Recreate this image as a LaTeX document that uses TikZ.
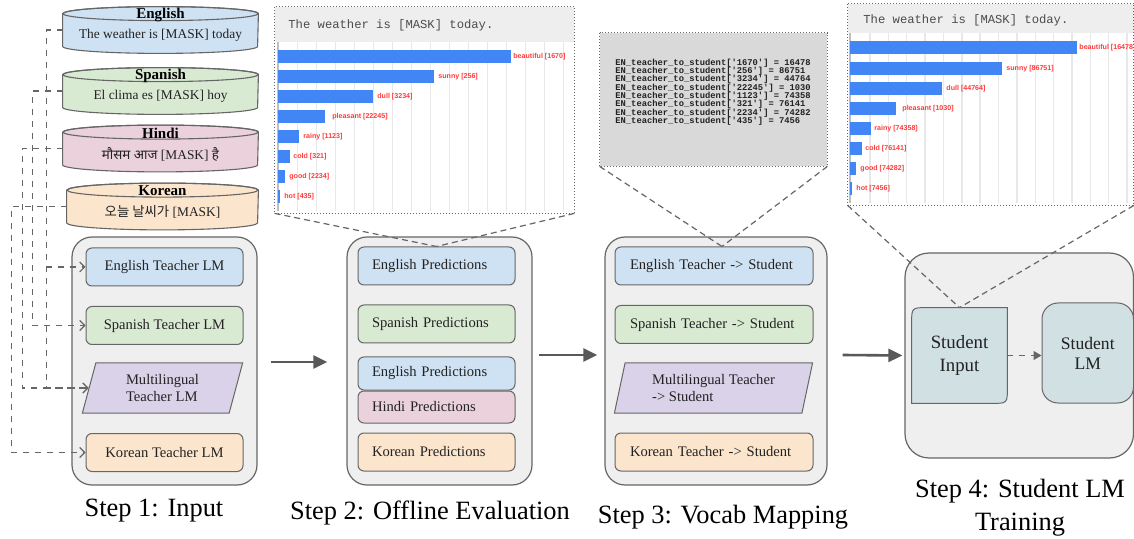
\documentclass[tikz,border=0pt]{standalone}
\usepackage{fontspec}
\setmainfont{Liberation Serif}
\setmonofont{Liberation Mono}
\newfontfamily\chartfont{Liberation Sans}
\newfontfamily\hindifont[Script=Devanagari]{Noto Sans}
\newfontfamily\koreanfont{Noto Sans CJK KR}
\usepackage{tikz}
\usetikzlibrary{arrows.meta,positioning,shapes.geometric}
\usetikzlibrary{calc}

\definecolor{edgegray}{HTML}{666666}
\definecolor{panelgray}{HTML}{EFEFEF}
\definecolor{engcol}{HTML}{CFE2F3}
\definecolor{spacol}{HTML}{D9EAD3}
\definecolor{hincol}{HTML}{EAD1DC}
\definecolor{korcol}{HTML}{FCE5CD}
\definecolor{mulcol}{HTML}{D9D2E9}
\definecolor{stucol}{HTML}{D0E0E3}
\definecolor{flowgray}{HTML}{595959}
\definecolor{barblue}{HTML}{4285F4}
\definecolor{barred}{HTML}{FF3B3B}
\definecolor{gridgray}{HTML}{E8E8E8}
\definecolor{headgray}{HTML}{EEEEEE}
\definecolor{codegray}{HTML}{D9D9D9}
\definecolor{textdark}{HTML}{222222}

\tikzset{
  stepbox/.style={draw=edgegray, fill=panelgray, line width=0.6pt, rounded corners=10pt, inner sep=0pt},
  lmbox/.style={draw=edgegray, line width=0.5pt, rounded corners=3pt, minimum width=78.5pt, minimum height=19pt, inner sep=0pt, text=textdark, font=\fontsize{7.3}{8.3}\selectfont},
  predbox/.style={lmbox, inner xsep=7pt, text width=64.5pt, align=left},
  mapbox/.style={lmbox, minimum width=99pt, inner xsep=7.5pt, text width=84pt, align=left},
  slantbox/.style={trapezium, trapezium left angle=75, trapezium right angle=105, trapezium stretches=true, draw=edgegray, fill=mulcol, line width=0.5pt, inner sep=0pt, align=left, text=textdark, font=\fontsize{7.3}{8.6}\selectfont},
  dbcore/.style={minimum height=16pt, inner sep=0pt},
  dbedge/.style={draw=edgegray, line width=0.55pt},
  dbtitle/.style={inner sep=0pt, text=black, font=\bfseries\fontsize{7.5}{9}\selectfont},
  dbtext/.style={inner sep=0pt, text=textdark, font=\fontsize{6.7}{8}\selectfont},
  feed/.style={draw=edgegray, dashed, line width=0.55pt, -{Straight Barb[length=2.5pt,width=5pt]}},
  flow/.style={draw=flowgray, line width=1.3pt, -{Triangle[length=7pt,width=6.5pt]}},
  zoomline/.style={draw=edgegray, dash pattern=on 3pt off 2pt, line width=0.6pt},
  chartpanel/.style={fill=white, inner sep=0pt},
  panelborder/.style={draw=edgegray, line width=0.5pt, dash pattern=on 0.5pt off 1pt},
  gridline/.style={draw=gridgray, line width=0.7pt},
  barlabel/.style={anchor=west, inner sep=0pt, text=barred, font=\chartfont\bfseries\fontsize{3.55}{4}\selectfont},
  headtext/.style={anchor=west, inner sep=0pt, text=black!70, font=\ttfamily\fontsize{6.1}{7}\selectfont},
  codetext/.style={anchor=west, inner sep=0pt, align=left, text=textdark, font=\ttfamily\bfseries\fontsize{4.4}{4.15}\selectfont},
  steplabel/.style={anchor=base, inner sep=0pt, align=center, font=\fontsize{13.2}{16.5}\selectfont},
  studtext/.style={inner sep=0pt, align=center, text=textdark, font=\fontsize{9.4}{11.5}\selectfont}
}

\begin{document}
\begin{tikzpicture}[x=0.5pt,y=-0.5pt]
\useasboundingbox (0,0) rectangle (1134,539);

\foreach \nm/\cx/\cy/\w/\col/\ttl/\txt in {
  en/160.5/30/97.5/engcol/English/{The weather is [MASK] today},
  es/160.5/91/97.5/spacol/Spanish/{El clima es [MASK] hoy},
  hi/160.5/148.5/97.5/hincol/Hindi/{{\hindifont मौसम आज} [MASK] {\hindifont है}},
  ko/162.5/206.5/95.5/korcol/Korean/{{\koreanfont 오늘 날씨가} [MASK]}}
{
  \node[dbcore, minimum width=\w pt] (\nm) at (\cx,\cy) {};
  \draw[dbedge, fill=\col] (\nm.north west) -- (\nm.south west)
    arc[start angle=180, end angle=360, x radius=\w pt/2, y radius=3.5pt]
    -- (\nm.north east)
    arc[start angle=0, end angle=180, x radius=\w pt/2, y radius=3.5pt] -- cycle;
  \draw[dbedge] (\nm.north) ellipse[x radius=\w pt/2, y radius=3.5pt];
  \node[dbtitle] (\nm-title) at ([yshift=-0.5pt]\nm.north) {\ttl};
  \node[dbtext] (\nm-text) at ([yshift=-11pt]\nm.north) {\txt};
}

\node[stepbox, minimum width=92.5pt, minimum height=124pt] (input) at (164.5,361) {};
\node[stepbox, minimum width=92.5pt, minimum height=124pt] (offline) at (439.5,361) {};
\node[stepbox, minimum width=111pt, minimum height=124pt] (vocab) at (716,361) {};
\node[stepbox, rounded corners=12pt, minimum width=114.25pt, minimum height=102.5pt] (training) at (1019.25,355.5) {};

\node[lmbox, fill=engcol] (t-en) at (164.5,267) {English Teacher LM};
\node[lmbox, fill=spacol] (t-es) at (164.5,325.5) {Spanish Teacher LM};
\node[slantbox, minimum width=80.5pt, minimum height=25pt] (t-ml) at (162.5,388) {Multilingual\\Teacher LM};
\node[lmbox, fill=korcol] (t-ko) at (164.5,452.5) {Korean Teacher LM};

\node[predbox, fill=engcol] (p-en) at (436.5,266) {English Predictions};
\node[predbox, fill=spacol] (p-es) at (436.5,324) {Spanish Predictions};
\node[predbox, fill=engcol, minimum height=16.5pt] (p-en2) at (436.5,373.5) {English Predictions};
\node[predbox, fill=hincol, minimum height=16pt] (p-hi) at (436.5,407) {Hindi Predictions};
\node[predbox, fill=korcol] (p-ko) at (436.5,452) {Korean Predictions};

\node[mapbox, fill=engcol] (m-en) at (714,266) {English Teacher -> Student};
\node[mapbox, fill=spacol] (m-es) at (714,324.5) {Spanish Teacher -> Student};
\node[slantbox, minimum width=99.5pt, minimum height=25pt] (m-ml) at (713.5,388) {Multilingual Teacher\\-> Student};
\node[mapbox, fill=korcol] (m-ko) at (714,452) {Korean Teacher -> Student};

\node[minimum width=47.5pt, minimum height=47.5pt, inner sep=0pt] (s-in) at (959.5,355.5) {};
\draw[draw=edgegray, fill=stucol, line width=0.5pt] (s-in.north east) -- ([yshift=8pt]s-in.south east)
  .. controls (s-in.south east) .. ([xshift=-8pt]s-in.south east) -- (s-in.south west)
  -- ([yshift=-8pt]s-in.north west) .. controls (s-in.north west) .. ([xshift=8pt]s-in.north west) -- cycle;
\node[studtext] (s-in-text) at (s-in) {Student\\Input};
\node[draw=edgegray, fill=stucol, line width=0.5pt, rounded corners=8pt, minimum width=45.75pt, minimum height=50pt, inner sep=0pt, studtext, font=\fontsize{8.8}{10}\selectfont] (s-lm) at (1087.75,353) {Student\\LM};

\draw[feed] (en.west) -- ++(-8pt,0) |- (t-en);
\draw[feed] (en.west) -- ++(-8pt,0) |- (t-ml);
\draw[feed] (es.west) -- ++(-15pt,0) |- (t-es);
\draw[feed] (hi.west) -- ++(-20pt,0) |- (t-ml);
\draw[feed] (ko.west) -- ++(-27.5pt,0) |- (t-ko);
\draw[feed, -{Triangle[length=4pt,width=4.5pt]}] (s-in.east) -- (s-in.east -| s-lm.west);

\draw[flow] ([xshift=6.5pt,yshift=-0.5pt]input.east) -- ([xshift=-9.5pt,yshift=-0.5pt]offline.west);
\draw[flow] ([xshift=3pt,yshift=3pt]offline.east) -- ([xshift=-3.5pt,yshift=3pt]vocab.west);
\draw[flow] ([xshift=7.5pt,yshift=3pt]vocab.east) -- ([xshift=-1pt]training.west);

\node[chartpanel, minimum width=149.5pt, minimum height=103pt] (chart-off) at (424.5,110) {};
\fill[headgray] (275,7) rectangle (574,42);
\node[headtext] (q-off) at (288,25) {The weather is [MASK] today.};
\foreach \g in {0,...,14}
  \draw[gridline] (297.7+19*\g,42) -- (297.7+19*\g,211);
\draw[draw=black!25, line width=0.6pt] (278,42) -- (278,211);
\foreach \e/\lx/\c/\lab [count=\i] in {511/513/57/{beautiful [1670]}, 434/438/77/{sunny [256]},
    373/377/97/{dull [3234]}, 325/332/117/{pleasant [22245]}, 299/303/137/{rainy [1123]},
    290/293/157/{cold [321]}, 285/289/177/{good [2234]}, 280/284/197/{hot [435]}} {
  \fill[barblue] (278,\c-6.5) rectangle (\e,\c+6.5);
  \node[barlabel] (lo\i) at (\lx,\c) {\lab};
}
\draw[panelborder] (chart-off.north west) rectangle (chart-off.south east);

\node[fill=codegray, minimum width=113.5pt, minimum height=66.5pt, inner sep=0pt] (code-panel) at (713.5,99.5) {};
\draw[panelborder] (code-panel.north west) rectangle (code-panel.south east);
\node[codetext] (code) at (615,92) {EN\_teacher\_to\_student['1670'] = 16478\\
EN\_teacher\_to\_student['256'] = 86751\\
EN\_teacher\_to\_student['3234'] = 44764\\
EN\_teacher\_to\_student['22245'] = 1030\\
EN\_teacher\_to\_student['1123'] = 74358\\
EN\_teacher\_to\_student['321'] = 76141\\
EN\_teacher\_to\_student['2234'] = 74282\\
EN\_teacher\_to\_student['435'] = 7456};

\node[chartpanel, minimum width=142.75pt, minimum height=100.5pt] (chart-stu) at (990.75,104.5) {};
\fill[headgray] (848,4) rectangle (1133.5,33);
\node[headtext] (q-stu) at (863,20) {The weather is [MASK] today.};
\foreach \g in {0,...,14}
  \draw[gridline] (870+18.36*\g,33) -- (870+18.36*\g,203);
\draw[draw=black!25, line width=0.6pt] (850,33) -- (850,203);
\foreach \e/\lx/\c/\lab [count=\i] in {1077/1079/48/{beautiful [16478]}, 1002/1006/69/{sunny [86751]},
    942/946/89/{dull [44764]}, 896/902/109/{pleasant [1030]}, 871/874/129/{rainy [74358]},
    862/865/149/{cold [76141]}, 856/860/169/{good [74282]}, 852/856/189/{hot [7456]}} {
  \fill[barblue] (850,\c-6.5) rectangle (\e,\c+6.5);
  \node[barlabel] (ls\i) at (\lx,\c) {\lab};
}
\draw[panelborder] (chart-stu.north west) rectangle (chart-stu.south east);

\draw[zoomline] (chart-off.south west) -- (p-en.north);
\draw[zoomline] (chart-off.south east) -- (p-en.north);
\draw[zoomline] (code-panel.south west) -- ([xshift=4pt]m-en.north);
\draw[zoomline] (code-panel.south east) -- ([xshift=4pt]m-en.north);
\draw[zoomline] (chart-stu.south west) -- (s-in.north);
\draw[zoomline] (chart-stu.south east) -- (s-in.north);

\node[steplabel] (lab-input) at (154,516) {Step 1: Input};
\node[steplabel] (lab-offline) at (430,519) {Step 2: Offline Evaluation};
\node[steplabel] (lab-vocab) at (723,523) {Step 3: Vocab Mapping};
\node[steplabel, anchor=center] (lab-train) at (1020,508) {Step 4: Student LM\\Training};
\end{tikzpicture}
\end{document}
